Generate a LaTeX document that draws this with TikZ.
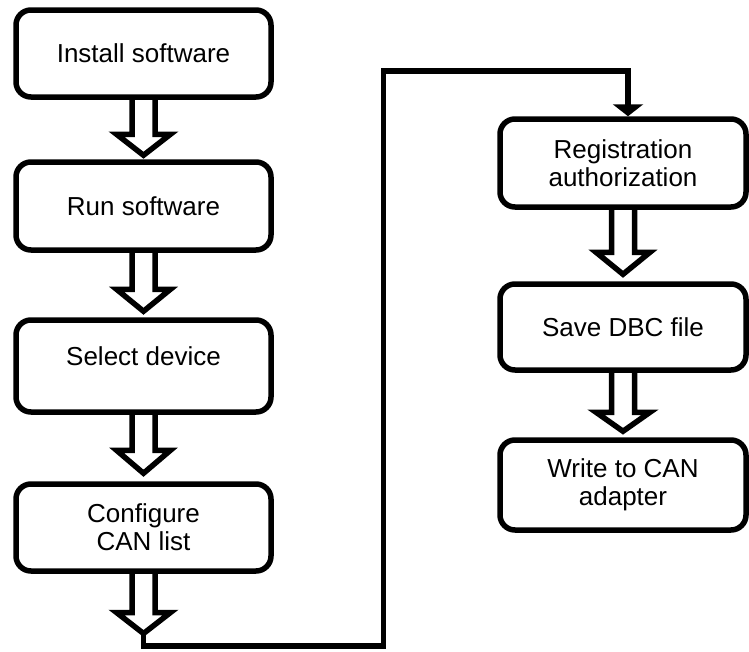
\documentclass[tikz,border=0pt]{standalone}
\usepackage{fontspec}
\setmainfont{Liberation Sans}
\usetikzlibrary{arrows.meta,calc}

% Block arrow (open outline) from the bottom of one step to the next:
% #1 source node, #2 target point, #3 height of head base above target, #4 tip gap
\newcommand\hollowarrow[4]{%
  \draw[hollow] let \p1=(#1.south), \p2=(#2) in
    (\x1-11.5pt,\y1) -- (\x1-11.5pt,\y2+#3) -- (\x1-27pt,\y2+#3)
    -- (\x1,\y2+#4) -- (\x1+27pt,\y2+#3) -- (\x1+11.5pt,\y2+#3)
    -- (\x1+11.5pt,\y1);}

\begin{document}
\begin{tikzpicture}[x=1pt,y=-1pt,
  box/.style={draw, line width=5.5pt, rounded corners=15pt, fill=white,
    inner sep=0pt, align=center, font=\fontsize{26}{28}\selectfont},
  lbox/.style={box, minimum width=255pt},
  rbox/.style={box, minimum width=246pt},
  txt/.style={inner sep=0pt, align=center, font=\fontsize{26}{28}\selectfont},
  hollow/.style={draw, line width=5.5pt, line join=miter},
  link/.style={draw, line width=5.5pt, line join=miter,
    -{Triangle[width=30pt,length=12pt]}}]
\useasboundingbox (0,0) rectangle (749,651);

% left column
\node[lbox, minimum height=87pt] (b1) at (143.5,53.5) {Install software};
\node[lbox, minimum height=88pt] (b2) at (143.5,206) {Run software};
\node[lbox, minimum height=92pt] (b3) at (143.5,366) {};
\node[txt] (b3t) at ([yshift=10pt]b3.center) {Select device};
\node[lbox, minimum height=87pt] (b4) at (143.5,527.5) {Configure\\CAN list};

% right column
\node[rbox, minimum height=88pt] (r1) at (623,163) {Registration\\authorization};
\node[rbox, minimum height=86pt] (r2) at (623,327) {Save DBC file};
\node[rbox, minimum height=90pt] (r3) at (623,485) {Write to CAN\\adapter};

% block arrows
\hollowarrow{b1}{b2.north}{25pt}{4pt}
\hollowarrow{b2}{b3.north}{28pt}{6pt}
\hollowarrow{b3}{b4.north}{31pt}{8pt}
\hollowarrow{r1}{r2.north}{29pt}{7pt}
\hollowarrow{r2}{r3.north}{25pt}{6pt}

% last block arrow and the link over to the right column
\coordinate (e4) at (143.5,646);
\coordinate (t4) at (143.5,633.5);
\coordinate (k1) at (383.5,646);
\coordinate (k2) at (383.5,71);
\coordinate (k3) at (628,71);
\hollowarrow{b4}{e4}{33.5pt}{12.5pt}
\draw[link] (t4) -- (e4) -- (k1) -- (k2) -- (k3) -- (k3 |- r1.north);
\end{tikzpicture}
\end{document}
